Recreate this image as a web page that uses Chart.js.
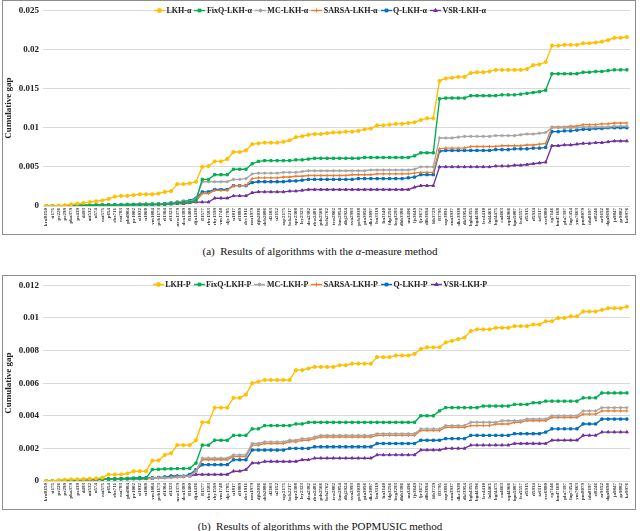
<!DOCTYPE html>
<html>
<head>
<meta charset="utf-8">
<script src="https://cdn.jsdelivr.net/npm/chart.js@4.4.1/dist/chart.umd.min.js"></script>
<style>
  body { margin: 0; background: #fff; width: 640px; height: 531px; position: relative; overflow: hidden; }
  .panel { position: absolute; left: 2px; width: 632px; height: 233px; border: 1px solid #8c8c8c; }
  .caption { position: absolute; left: 0; width: 640px; text-align: center; font: 11px "Liberation Serif", serif; color: #111; line-height: 14px; }
  .legend { position: absolute; left: 0; width: 640px; text-align: center; white-space: nowrap; font: bold 8px "Liberation Serif", serif; color: #222; line-height: 10px; }
  .legend span { display: inline-block; margin: 0 1.5px; }
  .legend canvas { vertical-align: middle; margin-right: 1.5px; position: relative; top: -1px; }
</style>
</head>
<body>
<div class="panel" style="top:0"><canvas id="chart-alpha"></canvas></div>
<div class="legend" id="legend-alpha" style="top:6px"></div>
<div class="caption" style="top:244px">(a)&nbsp; Results of algorithms with the <i>α</i>-measure method</div>
<div class="panel" style="top:275px"><canvas id="chart-pop"></canvas></div>
<div class="legend" id="legend-pop" style="top:280px"></div>
<div class="caption" style="top:519px">(b)&nbsp; Results of algorithms with the POPMUSIC method</div>
<script>
const instances = ['kroB150','si175','pr226','pr299','pka379','pr439','d493','att532','u574','rat575',
  'p654','rbx711','rat783','pbd984','pr1002','si1032','u1060','vm1084','pcb1173','rl1304',
  'rl1323','nrw1379','dca1389','fl1400','dja1436','fl1577','rbv1583','rby1599','vm1748','djc1785',
  'u1817','rl1889','dcc1911','mu1979','djb2036','dcb2086','d2103','u2152','xqc2175','bck2217',
  'xpr2308','ley2323','dea2382','rbw2481','pds2566','bch2762','irw2802','lsm2854','dbj2924','xva2993',
  'pcb3038','pia3056','dke3097','lsn3119','lta3140','fdp3256','beg3293','dhb3386','nu3496','fjs3649',
  'fjr3672','dlb3694','ltb3729','fl3795','xqe3891','xua3937','dkc3938','dkf3954','bgb4355','bgd4396',
  'frv4410','fnl4461','bgf4475','ca4663','xqd4966','fqm5087','fea5557','rl5915','rl5934','tz6117',
  'xsc6880','eg7146','bnd7168','pla7397','lap7454','ym7663','pm8079','ida8197','ei8246','ar9152',
  'dga9698','ja9847','gr9882','kz9976'];

const namesAlpha = ['LKH-α','FixQ-LKH-α','MC-LKH-α','SARSA-LKH-α','Q-LKH-α','VSR-LKH-α'];
const namesPop = ['LKH-P','FixQ-LKH-P','MC-LKH-P','SARSA-LKH-P','Q-LKH-P','VSR-LKH-P'];
const colors = ['#FFC000','#00B050','#A5A5A5','#ED7D31','#0070C0','#7030A0'];
const markers = ['circle','rect','star','cross','rect','triangle'];

const yTicksAlpha = [0, 0.005, 0.01, 0.015, 0.02, 0.025];
const yTicksPop = [0, 0.002, 0.004, 0.006, 0.008, 0.01, 0.012];

// (a) alpha-measure
const lkhA = [0,0,0.00005,0.0001,0.0002,0.0003,0.0004,0.0005,0.0006,0.0007,
  0.0009,0.0012,0.0013,0.0013,0.0014,0.0015,0.0015,0.0015,0.0016,0.0018,
  0.0019,0.0028,0.0028,0.0029,0.0031,0.005,0.0051,0.0057,0.0057,0.006,
  0.0069,0.0069,0.0071,0.0079,0.008,0.0081,0.0081,0.0081,0.0082,0.0084,
  0.0088,0.0089,0.0091,0.0092,0.0092,0.0093,0.0094,0.0094,0.0095,0.0095,
  0.0096,0.0098,0.0099,0.0103,0.0103,0.0104,0.0105,0.0105,0.0106,0.0107,
  0.011,0.0112,0.0112,0.016,0.0163,0.0164,0.0165,0.0165,0.017,0.0171,
  0.0171,0.0172,0.0174,0.0174,0.0174,0.0174,0.0174,0.0175,0.018,0.0181,
  0.0184,0.0205,0.0205,0.0206,0.0206,0.0206,0.0208,0.0208,0.0209,0.021,
  0.0212,0.0215,0.0215,0.0216];
const fixqA = [0,0,0.00002,0.00003,0.00005,0.00008,0.0001,0.0001,0.0001,0.00012,
  0.00013,0.00015,0.00015,0.00016,0.00018,0.0002,0.0002,0.0002,0.00022,0.00025,
  0.0003,0.0004,0.0005,0.0005,0.0007,0.0034,0.0034,0.004,0.004,0.004,
  0.0047,0.0047,0.0047,0.0054,0.0057,0.0058,0.0058,0.0058,0.0058,0.0058,
  0.0059,0.0059,0.006,0.0061,0.0061,0.0061,0.0061,0.0061,0.0061,0.0061,
  0.0061,0.0062,0.0062,0.0062,0.0062,0.0062,0.0062,0.0062,0.0062,0.0064,
  0.0068,0.0068,0.0068,0.0137,0.0138,0.0138,0.0138,0.0138,0.0141,0.0141,
  0.0141,0.0141,0.0141,0.0142,0.0142,0.0142,0.0143,0.0144,0.0145,0.0146,
  0.0148,0.0169,0.0169,0.0169,0.0169,0.0169,0.0171,0.0171,0.0172,0.0172,
  0.0173,0.0174,0.0174,0.0174];
const mcA = [0,0,0.00002,0.00004,0.00006,0.0001,0.0001,0.00012,0.00014,0.00015,
  0.00016,0.00018,0.0002,0.0002,0.00022,0.00024,0.00025,0.00026,0.00028,0.0003,
  0.0004,0.0005,0.0006,0.0006,0.0009,0.0031,0.0031,0.0031,0.0031,0.0031,
  0.0034,0.0034,0.0035,0.0041,0.0042,0.0042,0.0042,0.0042,0.0043,0.0043,
  0.0043,0.0044,0.0045,0.0045,0.0045,0.0045,0.0045,0.0045,0.0045,0.0045,
  0.0045,0.0045,0.0046,0.0046,0.0046,0.0046,0.0046,0.0046,0.0046,0.0047,
  0.005,0.005,0.005,0.0087,0.0087,0.0087,0.0088,0.0089,0.0089,0.0089,
  0.0089,0.0089,0.009,0.009,0.009,0.009,0.0091,0.0092,0.0092,0.0093,
  0.0094,0.01,0.01,0.01,0.01,0.01,0.0101,0.0101,0.0101,0.0101,
  0.0101,0.0102,0.0102,0.0102];
const sarsaA = [0,0,0.00002,0.00003,0.00005,0.00008,0.0001,0.0001,0.00011,0.00012,
  0.00013,0.00015,0.00015,0.00016,0.00018,0.0002,0.0002,0.0002,0.00022,0.00025,
  0.0003,0.0004,0.0004,0.0005,0.0006,0.0016,0.0016,0.002,0.002,0.002,
  0.0026,0.0026,0.0026,0.0035,0.0036,0.0036,0.0036,0.0036,0.0037,0.0037,
  0.0038,0.0038,0.0039,0.0039,0.0039,0.0039,0.0039,0.0039,0.0039,0.004,
  0.004,0.004,0.004,0.0041,0.0041,0.0041,0.0041,0.0041,0.0041,0.0042,
  0.0043,0.0043,0.0043,0.0073,0.0074,0.0074,0.0074,0.0074,0.0076,0.0076,
  0.0076,0.0076,0.0076,0.0077,0.0077,0.0077,0.0077,0.0078,0.0078,0.0079,
  0.008,0.0101,0.0101,0.0101,0.0102,0.0102,0.0104,0.0104,0.0104,0.0105,
  0.0105,0.0106,0.0106,0.0106];
const qA = [0,0,0.00002,0.00004,0.00006,0.00008,0.0001,0.0001,0.00012,0.00014,
  0.00015,0.00016,0.00018,0.0002,0.0002,0.00022,0.00024,0.00025,0.00028,0.0003,
  0.0004,0.0005,0.0006,0.0007,0.001,0.0018,0.0018,0.0021,0.0021,0.0021,
  0.0026,0.0026,0.0026,0.003,0.0031,0.0031,0.0031,0.0031,0.0031,0.0032,
  0.0032,0.0033,0.0034,0.0034,0.0034,0.0034,0.0034,0.0034,0.0034,0.0034,
  0.0035,0.0035,0.0035,0.0035,0.0035,0.0035,0.0035,0.0035,0.0036,0.0037,
  0.004,0.004,0.004,0.007,0.0071,0.0071,0.0071,0.0071,0.0071,0.0071,
  0.0071,0.0071,0.0072,0.0072,0.0072,0.0073,0.0073,0.0073,0.0074,0.0074,
  0.0075,0.0095,0.0095,0.0096,0.0096,0.0097,0.0098,0.0098,0.0099,0.0099,
  0.01,0.01,0.01,0.01];
const vsrA = [0,0,0.00001,0.00002,0.00003,0.00005,0.00006,0.00008,0.0001,0.0001,
  0.0001,0.00012,0.00013,0.00014,0.00015,0.00016,0.00018,0.0002,0.0002,0.0002,
  0.00025,0.0003,0.0003,0.0004,0.0005,0.0005,0.0005,0.001,0.001,0.001,
  0.0013,0.0013,0.0013,0.0017,0.0018,0.0018,0.0018,0.0018,0.0018,0.0019,
  0.0019,0.002,0.0021,0.0021,0.0021,0.0021,0.0021,0.0021,0.0021,0.0021,
  0.0021,0.0021,0.0021,0.0021,0.0021,0.0021,0.0021,0.0021,0.0021,0.0024,
  0.0026,0.0026,0.0026,0.005,0.005,0.005,0.005,0.005,0.005,0.005,
  0.005,0.005,0.0051,0.0051,0.0051,0.0052,0.0052,0.0053,0.0054,0.0055,
  0.0056,0.0077,0.0077,0.0078,0.0078,0.0079,0.008,0.008,0.0081,0.0081,
  0.0082,0.0083,0.0083,0.0083];

// (b) POPMUSIC
const lkhP = [0,0,0.00005,0.00008,0.0001,0.0001,0.00012,0.00014,0.00016,0.0002,
  0.0004,0.0004,0.0004,0.00046,0.0006,0.0006,0.0006,0.00125,0.00126,0.0016,
  0.0017,0.0022,0.0022,0.0022,0.0025,0.0036,0.0036,0.0045,0.0045,0.0045,
  0.0051,0.0051,0.0053,0.006,0.0061,0.0062,0.0062,0.0062,0.0062,0.0062,
  0.0068,0.0068,0.0069,0.007,0.007,0.007,0.007,0.0071,0.0071,0.0072,
  0.0072,0.0072,0.0072,0.0076,0.0076,0.0076,0.0077,0.0077,0.0077,0.0078,
  0.0081,0.0082,0.0082,0.0082,0.0085,0.0086,0.0087,0.0088,0.0092,0.0093,
  0.0093,0.0093,0.0094,0.0094,0.0094,0.0095,0.0095,0.0095,0.0096,0.0096,
  0.0098,0.0098,0.01,0.01,0.0101,0.0101,0.0104,0.0104,0.0104,0.0105,
  0.0106,0.0106,0.0106,0.0107];
const fixqP = [0,0,0.00002,0.00004,0.00005,0.00006,0.00008,0.0001,0.0001,0.0001,
  0.00012,0.00012,0.00013,0.00014,0.00015,0.00015,0.00016,0.0007,0.00072,0.00074,
  0.00075,0.00076,0.00076,0.00078,0.0011,0.0022,0.0022,0.0025,0.0025,0.0025,
  0.0028,0.0028,0.0028,0.0032,0.0032,0.0034,0.0034,0.0034,0.0034,0.0034,
  0.0035,0.0035,0.0036,0.0036,0.0036,0.0036,0.0036,0.0036,0.0036,0.0036,
  0.0036,0.0036,0.0036,0.0036,0.0036,0.0036,0.0036,0.0036,0.0036,0.0036,
  0.004,0.004,0.004,0.0043,0.0045,0.0045,0.0045,0.0045,0.0045,0.0045,
  0.0046,0.0046,0.0046,0.0046,0.0046,0.0047,0.0047,0.0047,0.0048,0.0048,
  0.0049,0.0049,0.0049,0.0049,0.0049,0.0049,0.0051,0.0051,0.0051,0.0054,
  0.0054,0.0054,0.0054,0.0054];
const mcP = [0,0,0.00002,0.00003,0.00004,0.00005,0.00006,0.00008,0.0001,0.0001,
  0.0001,0.00011,0.00012,0.00013,0.00014,0.00015,0.00016,0.00018,0.0002,0.0002,
  0.00022,0.00025,0.0003,0.0003,0.0006,0.0014,0.0014,0.0014,0.0014,0.0014,
  0.0016,0.0016,0.0016,0.0023,0.0023,0.0024,0.0024,0.0024,0.0024,0.0025,
  0.0025,0.0026,0.0026,0.0027,0.0028,0.0028,0.0028,0.0028,0.0028,0.0028,
  0.0028,0.0028,0.0028,0.0029,0.0029,0.0029,0.0029,0.0029,0.0029,0.0029,
  0.0032,0.0032,0.0032,0.0032,0.0034,0.0034,0.0034,0.0034,0.0036,0.0036,
  0.0036,0.0036,0.0036,0.0037,0.0037,0.0037,0.0037,0.0038,0.0038,0.0038,
  0.0038,0.004,0.004,0.004,0.004,0.004,0.0043,0.0043,0.0043,0.0045,
  0.0045,0.0045,0.0045,0.0045];
const sarsaP = [0,0,0.00002,0.00003,0.00004,0.00005,0.00006,0.00007,0.00008,0.0001,
  0.0001,0.0001,0.00011,0.00012,0.00013,0.00014,0.00015,0.00016,0.00018,0.0002,
  0.0002,0.00022,0.00025,0.0003,0.0006,0.0013,0.0013,0.0013,0.0013,0.0013,
  0.0015,0.0015,0.0015,0.0022,0.0022,0.0023,0.0023,0.0023,0.0023,0.0024,
  0.0024,0.0025,0.0025,0.0026,0.0027,0.0027,0.0027,0.0027,0.0027,0.0027,
  0.0027,0.0027,0.0027,0.0028,0.0028,0.0028,0.0028,0.0028,0.0028,0.0028,
  0.0031,0.0031,0.0031,0.0031,0.0033,0.0033,0.0033,0.0033,0.0034,0.0034,
  0.0034,0.0034,0.0035,0.0035,0.0035,0.0036,0.0036,0.0037,0.0037,0.0037,
  0.0037,0.0039,0.0039,0.0039,0.0039,0.0039,0.0041,0.0041,0.0041,0.0043,
  0.0043,0.0043,0.0043,0.0043];
const qP = [0,0,0.00002,0.00004,0.00005,0.00006,0.00008,0.0001,0.0001,0.00012,
  0.00013,0.00014,0.00015,0.00016,0.00018,0.0002,0.0002,0.0002,0.00022,0.00025,
  0.0003,0.0003,0.0003,0.0004,0.0007,0.001,0.001,0.001,0.001,0.001,
  0.0013,0.0013,0.0013,0.0019,0.0019,0.0019,0.0019,0.0019,0.0019,0.002,
  0.002,0.002,0.002,0.0021,0.0021,0.0021,0.0021,0.0021,0.0021,0.0021,
  0.0021,0.0021,0.0021,0.0023,0.0023,0.0023,0.0023,0.0023,0.0023,0.0023,
  0.0025,0.0025,0.0025,0.0025,0.0026,0.0026,0.0026,0.0026,0.0028,0.0028,
  0.0028,0.0028,0.0028,0.0028,0.0028,0.0029,0.0029,0.0029,0.0029,0.0029,
  0.003,0.0032,0.0032,0.0032,0.0032,0.0032,0.0035,0.0035,0.0035,0.0038,
  0.0038,0.0038,0.0038,0.0038];
const vsrP = [0,0,0.00001,0.00002,0.00003,0.00004,0.00005,0.00006,0.00008,0.0001,
  0.0001,0.0001,0.00011,0.00012,0.00013,0.00014,0.00015,0.00016,0.0002,0.0002,
  0.0003,0.0003,0.0003,0.0003,0.0004,0.0004,0.0004,0.0004,0.0004,0.0004,
  0.0006,0.0006,0.0007,0.0011,0.0011,0.0012,0.0012,0.0012,0.0012,0.0012,
  0.0012,0.0013,0.0013,0.0014,0.0014,0.0014,0.0014,0.0014,0.0014,0.0014,
  0.0014,0.0014,0.0014,0.0016,0.0016,0.0016,0.0016,0.0016,0.0016,0.0016,
  0.0019,0.0019,0.0019,0.0019,0.002,0.002,0.002,0.002,0.0022,0.0022,
  0.0022,0.0022,0.0022,0.0022,0.0022,0.0023,0.0023,0.0023,0.0023,0.0023,
  0.0023,0.0025,0.0025,0.0025,0.0025,0.0025,0.0028,0.0028,0.0028,0.003,
  0.003,0.003,0.003,0.003];

const SERIF = '"Liberation Serif", "DejaVu Serif", serif';

// little line+marker icons for the legend
function legendIcon(color, style) {
  const c = document.createElement('canvas');
  c.width = 11; c.height = 7;
  const ctx = c.getContext('2d');
  ctx.strokeStyle = color; ctx.fillStyle = color; ctx.lineWidth = 1.4;
  ctx.beginPath(); ctx.moveTo(0, 3.5); ctx.lineTo(11, 3.5); ctx.stroke();
  ctx.lineWidth = 1;
  Chart.helpers.drawPoint(ctx, { pointStyle: style, radius: 2, rotation: 0, borderWidth: 1 }, 5.5, 3.5);
  return c;
}

function buildLegend(id, names) {
  const box = document.getElementById(id);
  names.forEach((n, i) => {
    const item = document.createElement('span');
    item.appendChild(legendIcon(colors[i], markers[i]));
    item.appendChild(document.createTextNode(n));
    box.appendChild(item);
  });
}

function drawCumulative(id, names, series, yTicks, yMax) {
  const ctx = document.getElementById(id).getContext('2d');

  new Chart(ctx, {
    type: 'line',
    data: {
      labels: instances,
      datasets: series.map((s, i) => ({
        label: names[i],
        data: s,
        borderColor: colors[i],
        backgroundColor: colors[i],
        borderWidth: 1.4,
        pointStyle: markers[i],
        pointRadius: 1.6,
        pointBorderWidth: 1,
        tension: 0
      }))
    },
    options: {
      responsive: true,
      maintainAspectRatio: false,
      animation: false,
      layout: { padding: { top: 6, right: 0, left: 0, bottom: 0 } },
      plugins: {
        tooltip: { enabled: false },
        legend: { display: false }
      },
      scales: {
        x: {
          offset: true,
          grid: { display: false, drawTicks: false },
          border: { display: false },
          ticks: {
            autoSkip: false,
            minRotation: 90,
            maxRotation: 90,
            padding: 2,
            color: '#333',
            font: { family: SERIF, size: 5, weight: 'bold' }
          },
          afterFit: scale => { scale.height = 28; }
        },
        y: {
          min: 0,
          max: yMax,
          afterBuildTicks: scale => { scale.ticks = yTicks.map(v => ({ value: v })); },
          grid: { color: '#d9d9d9', drawTicks: false },
          border: { display: false },
          ticks: {
            padding: 4,
            color: '#222',
            font: { family: SERIF, size: 9, weight: 'bold' },
            callback: v => String(+v.toFixed(4))
          },
          title: {
            display: true,
            text: 'Cumulative gap',
            padding: 0,
            color: '#222',
            font: { family: SERIF, size: 9, weight: 'bold' }
          },
          afterFit: scale => { scale.width = 40; }
        }
      }
    }
  });
}

buildLegend('legend-alpha', namesAlpha);
buildLegend('legend-pop', namesPop);
drawCumulative('chart-alpha', namesAlpha, [lkhA, fixqA, mcA, sarsaA, qA, vsrA], yTicksAlpha, 0.025);
drawCumulative('chart-pop', namesPop, [lkhP, fixqP, mcP, sarsaP, qP, vsrP], yTicksPop, 0.012);
</script>
</body>
</html>
